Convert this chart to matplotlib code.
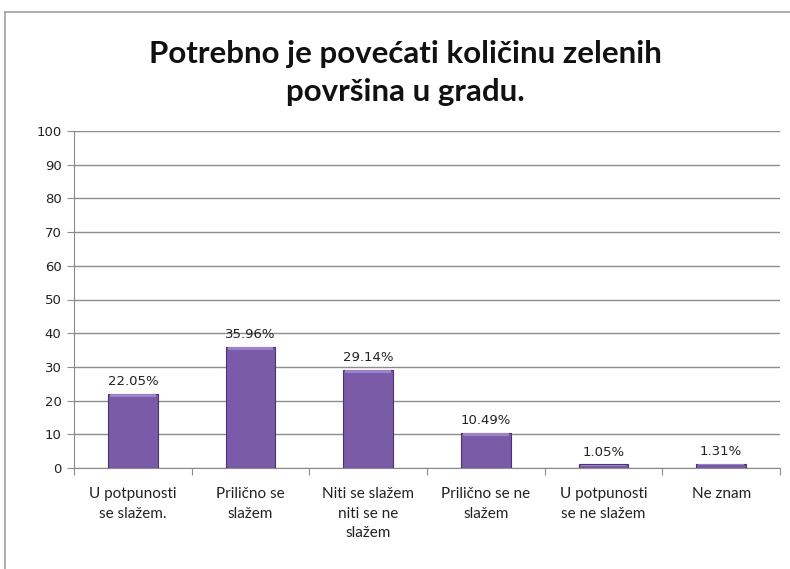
import matplotlib
matplotlib.use("Agg")
import matplotlib.pyplot as plt
from matplotlib.lines import Line2D
import numpy as np

# Survey answers and their shares (%)
categories = [
    "U potpunosti\nse slažem.",
    "Prilično se\nslažem",
    "Niti se slažem\nniti se ne\nslažem",
    "Prilično se ne\nslažem",
    "U potpunosti\nse ne slažem",
    "Ne znam",
]
values = [22.05, 35.96, 29.14, 10.49, 1.05, 1.31]
value_labels = ["22.05%", "35.96%", "29.14%", "10.49%", "1.05%", "1.31%"]
y_ticks = [0, 10, 20, 30, 40, 50, 60, 70, 80, 90, 100]

title = "Potrebno je povećati količinu zelenih\npovršina u gradu."

fig = plt.figure(figsize=(7.9, 5.69), dpi=100)
fig.patch.set_facecolor("white")

# outer chart frame (top and left edges visible)
fig.add_artist(Line2D([5 / 790, 5 / 790], [0, 1 - 12 / 569],
                      transform=fig.transFigure, color="#a0a0a0", lw=1.2))
fig.add_artist(Line2D([5 / 790, 1], [1 - 12 / 569, 1 - 12 / 569],
                      transform=fig.transFigure, color="#a0a0a0", lw=1.2))

ax = fig.add_axes([74 / 790, 1 - 468 / 569, 706 / 790, 337 / 569])

x = np.arange(len(categories))
ax.set_xlim(-0.5, len(categories) - 0.5)
ax.set_ylim(0, 100)

# gridlines
ax.set_yticks(y_ticks)
ax.yaxis.grid(True, color="#8c8c8c", lw=1.0)
ax.set_axisbelow(True)

bars = ax.bar(x, values, width=0.42, color="#7a5ba8", edgecolor="#4a3470", lw=0.8, zorder=3)
# soft lighter bevel on the top of each bar
for b in bars:
    h = b.get_height()
    t = min(0.7, h * 0.3)
    ax.bar(b.get_x() + b.get_width() / 2, t, width=b.get_width() * 0.92,
           bottom=h - t - 0.15, color="#9c82c8", lw=0, zorder=4)

for xi, v, lab in zip(x, values, value_labels):
    ax.annotate(lab, (xi, v), xytext=(0, 4), textcoords="offset points",
                ha="center", va="bottom", fontsize=9.5, color="#222222",
                family="DejaVu Sans")

for s in ["top", "right"]:
    ax.spines[s].set_visible(False)
ax.spines["left"].set_color("#8c8c8c")
ax.spines["bottom"].set_color("#8c8c8c")

ax.tick_params(axis="y", length=5, color="#8c8c8c", labelsize=9.5, pad=4, labelcolor="#222222")
ax.set_yticklabels([str(t) for t in y_ticks], family="DejaVu Sans")

# category boundary ticks on the x axis, labels in between
ax.set_xticks(np.arange(-0.5, len(categories), 1.0))
ax.set_xticklabels([])
ax.tick_params(axis="x", length=5, color="#8c8c8c")
ax.set_xticks(x, minor=True)
ax.set_xticklabels(categories, minor=True, family="Lato", fontsize=11,
                   linespacing=1.5, color="#222222", va="top")
ax.tick_params(axis="x", which="minor", length=0, pad=14)

fig.text(0.513, 1 - 73 / 569, title, ha="center", va="center", family="Lato",
         fontweight="bold", fontsize=22.5, linespacing=1.45, color="#111111")

fig.savefig("out.png", dpi=100, facecolor="white")
